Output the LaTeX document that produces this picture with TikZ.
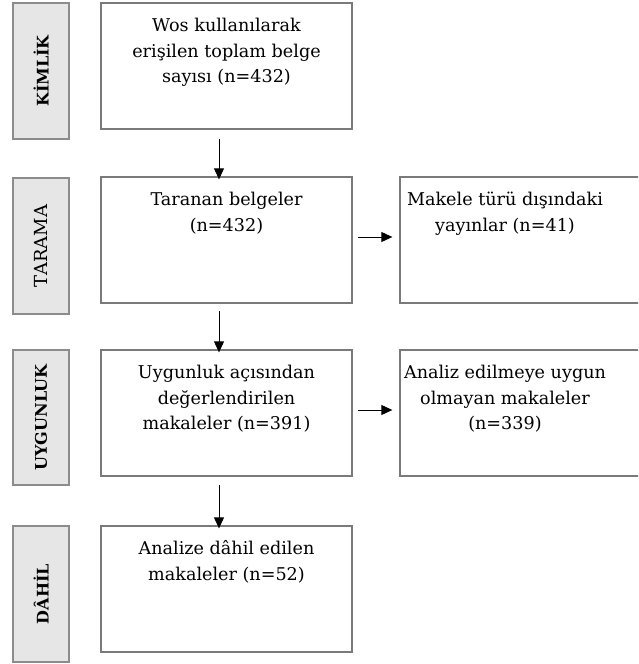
\documentclass[tikz,border=0pt]{standalone}
\usepackage{fontspec}
\setmainfont{DejaVu Serif}
\usetikzlibrary{arrows.meta}
\definecolor{lblfill}{HTML}{E7E6E6}
\definecolor{lbldraw}{HTML}{8C8C8C}
\definecolor{boxdraw}{HTML}{7A7A7A}
\begin{document}
\begin{tikzpicture}[x=1pt,y=-1pt,
  lbl/.style={draw=lbldraw,fill=lblfill,line width=1.3pt,minimum width=56pt,inner sep=0pt},
  lbltext/.style={rotate=90,inner sep=0pt,font=\fontsize{16}{20}\selectfont\bfseries},
  lbltextreg/.style={rotate=90,inner sep=0pt,font=\fontsize{18}{20}\selectfont},
  boxn/.style={draw=boxdraw,line width=1.3pt,inner sep=0pt},
  btext/.style={anchor=north,inner sep=0pt,align=center,font=\fontsize{17.6}{25.3}\selectfont},
  arr/.style={draw=black,line width=0.9pt,-{Triangle[length=11pt,width=10pt]}}
]
\useasboundingbox (0,0) rectangle (638,664);
\clip (0,0) rectangle (638,664);
% side labels
\node[lbl,minimum height=136pt] (l1) at (41,71) {};
\node[lbltext] at (l1.center) (l1t) {KİMLİK};
\node[lbl,minimum height=136pt] (l2) at (41,246) {};
\node[lbltextreg] at (l2.center) (l2t) {TARAMA};
\node[lbl,minimum height=135pt] (l3) at (41,417.5) {};
\node[lbltext] at (l3.center) (l3t) {UYGUNLUK};
\node[lbl,minimum height=136pt] (l4) at (41,594) {};
\node[lbltext] at (l4.center) (l4t) {DÂHİL};
% main boxes
\node[boxn,minimum width=251pt,minimum height=126pt] (b1) at (226.5,66) {};
\node[boxn,minimum width=251pt,minimum height=126pt] (b2) at (226.5,240) {};
\node[boxn,minimum width=251pt,minimum height=126pt] (b3) at (226.5,413) {};
\node[boxn,minimum width=251pt,minimum height=126pt] (b4) at (226.5,589) {};
\node[boxn,minimum width=260pt,minimum height=126pt] (r2) at (530,240) {};
\node[boxn,minimum width=260pt,minimum height=126pt] (r3) at (530,413) {};
% texts
\node[btext] (t1) at (226.5,14) {\strut Wos kullanılarak\\erişilen toplam belge\\sayısı (n=432)};
\node[btext] (t2) at (226.5,188) {\strut Taranan belgeler\\(n=432)};
\node[btext] (t3) at (226.5,361) {\strut Uygunluk açısından\\değerlendirilen\\makaleler (n=391)};
\node[btext] (t4) at (226.5,537) {\strut Analize dâhil edilen\\makaleler (n=52)};
\node[btext] (t5) at (505,188) {\strut Makele türü dışındaki\\yayınlar (n=41)};
\node[btext] (t6) at (505,361) {\strut Analiz edilmeye uygun\\olmayan makaleler\\(n=339)};
% arrows
\coordinate (a1s) at (219,139);
\coordinate (a2s) at (219,311);
\coordinate (a3s) at (219,485);
\draw[arr] (a1s) -- ([yshift=-3pt]b2.north -| a1s);
\draw[arr] (a2s) -- ([yshift=-3pt]b3.north -| a2s);
\draw[arr] (a3s) -- ([yshift=-3pt]b4.north -| a3s);
\coordinate (h2s) at (358,237);
\coordinate (h3s) at (358,410);
\draw[arr] (h2s) -- ([xshift=-7pt]r2.west |- h2s);
\draw[arr] (h3s) -- ([xshift=-7pt]r3.west |- h3s);
\end{tikzpicture}
\end{document}
